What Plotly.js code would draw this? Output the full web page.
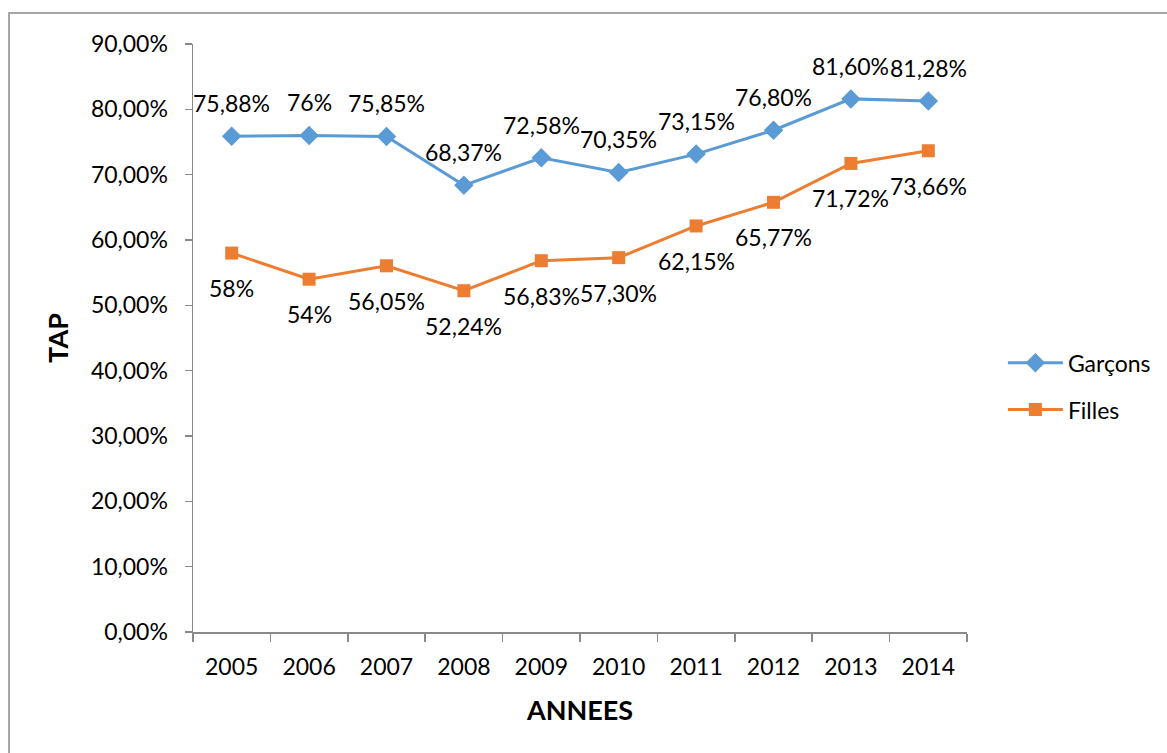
<!DOCTYPE html>
<html>
<head>
<meta charset="utf-8">
<script src="https://cdn.plot.ly/plotly-3.0.1.min.js"></script>
<style>
  html, body { margin: 0; padding: 0; background: #fff; }
  #wrap { position: relative; width: 1167px; height: 753px; }
  #chart { position: absolute; left: 0; top: 0; width: 1167px; height: 753px; }
  #frame { position: absolute; left: 8px; top: 12px; width: 1170px; height: 760px;
           border: 2px solid #a6a6a6; box-sizing: border-box; pointer-events: none; }
</style>
</head>
<body>
<div id="wrap">
  <div id="chart"></div>
  <div id="frame"></div>
</div>
<script>
const years = ['2005','2006','2007','2008','2009','2010','2011','2012','2013','2014'];
const garcons = [75.88, 76, 75.85, 68.37, 72.58, 70.35, 73.15, 76.80, 81.60, 81.28];
const filles = [58, 54, 56.05, 52.24, 56.83, 57.30, 62.15, 65.77, 71.72, 73.66];
const garconsLabels = ['75,88%','76%','75,85%','68,37%','72,58%','70,35%','73,15%','76,80%','81,60%','81,28%'];
const fillesLabels = ['58%','54%','56,05%','52,24%','56,83%','57,30%','62,15%','65,77%','71,72%','73,66%'];
const yTickVals = [0,10,20,30,40,50,60,70,80,90];
const yTickText = ['0,00%','10,00%','20,00%','30,00%','40,00%','50,00%','60,00%','70,00%','80,00%','90,00%'];

const FONT = 'Lato, "Open Sans", sans-serif';
const BLUE = '#5B9BD5';
const ORANGE = '#ED7D31';
const FS = 23;

const traces = [
  {
    x: years, y: garcons, name: 'Garçons', type: 'scatter', mode: 'lines+markers',
    line: {color: BLUE, width: 3},
    marker: {symbol: 'diamond', size: 15, color: BLUE},
    legendgroup: 'g'
  },
  {
    x: years, y: filles, name: 'Filles', type: 'scatter', mode: 'lines+markers',
    line: {color: ORANGE, width: 3},
    marker: {symbol: 'square', size: 13, color: ORANGE},
    legendgroup: 'f'
  }
];

const annotations = [];
years.forEach((yr, i) => {
  annotations.push({x: i, y: garcons[i], xref: 'x', yref: 'y', text: garconsLabels[i],
    showarrow: false, yshift: 33, font: {family: FONT, size: FS, color: '#000'}});
  annotations.push({x: i, y: filles[i], xref: 'x', yref: 'y', text: fillesLabels[i],
    showarrow: false, yshift: -35, font: {family: FONT, size: FS, color: '#000'}});
});

const layout = {
  width: 1167, height: 753,
  margin: {l: 193, r: 199, t: 44, b: 121},
  paper_bgcolor: '#fff', plot_bgcolor: '#fff',
  font: {family: FONT, size: FS, color: '#000'},
  showlegend: true,
  legend: {x: 1.045, y: 0.418, xanchor: 'left', yanchor: 'middle',
           font: {family: FONT, size: FS, color: '#000'},
           tracegroupgap: 14, itemwidth: 55, bgcolor: 'rgba(0,0,0,0)'},
  xaxis: {
    type: 'category', range: [-0.5, years.length - 0.5], autorange: false,
    showgrid: false, zeroline: false,
    showline: true, linecolor: '#898989', linewidth: 1.5,
    ticks: 'outside', ticklen: 8, tickcolor: '#898989', tickwidth: 1.5,
    tickson: 'boundaries', tickangle: 0,
    ticklabelstandoff: 14,
    tickfont: {family: FONT, size: FS, color: '#000'},
    title: {text: '<b>ANNEES</b>', font: {family: FONT, size: 27, color: '#000'}, standoff: 22}
  },
  yaxis: {
    range: [0, 90], autorange: false, tickvals: yTickVals, ticktext: yTickText,
    showgrid: false, zeroline: false,
    showline: true, linecolor: '#898989', linewidth: 1.5,
    ticks: 'outside', ticklen: 7, tickcolor: '#898989', tickwidth: 1.5,
    tickfont: {family: FONT, size: FS, color: '#000'},
    ticklabelstandoff: 12,
    title: {text: '<b>TAP</b>', font: {family: FONT, size: 27, color: '#000'}, standoff: 14}
  },
  annotations: annotations
};

Plotly.newPlot('chart', traces, layout, {displayModeBar: false, staticPlot: true});
</script>
</body>
</html>
